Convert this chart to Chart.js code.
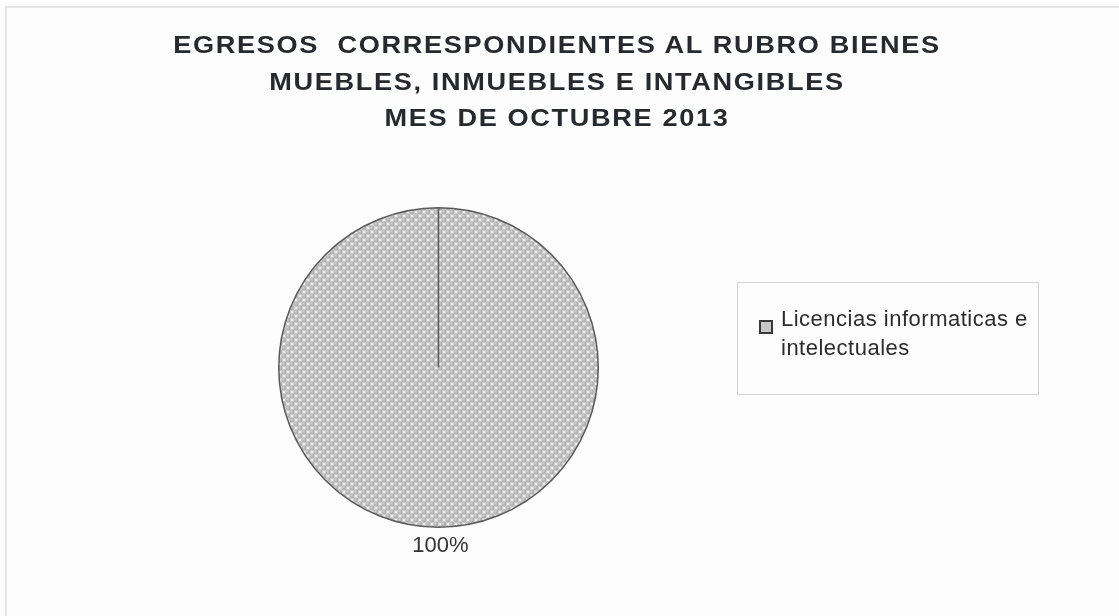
<!DOCTYPE html>
<html>
<head>
<meta charset="utf-8">
<script src="https://cdn.jsdelivr.net/npm/chart.js@4"></script>
<style>
  body { margin: 0; background: #fff; }
  #wrap { position: relative; width: 1119px; height: 616px; overflow: hidden; background: #fdfdfd; }
  #frame { position: absolute; left: 5px; top: 6px; width: 1200px; height: 700px;
    border-left: 2px solid #e6e6e6; border-top: 2px solid #e6e6e6; }
  #chart { position: absolute; left: 0; top: 0; }
  #title { position: absolute; left: 0; width: 1114px; top: 27px; text-align: center;
    font: bold 23px "Liberation Sans", Arial, sans-serif; letter-spacing: 1.4px;
    line-height: 36.5px; color: #262a2e; transform: scaleX(1.18); transform-origin: 557px 0; }
  #legend { position: absolute; left: 737px; top: 282px; width: 302px; height: 113px;
    border: 1px solid #d4d4d4; box-sizing: border-box; }
  .item { position: absolute; left: 21px; top: 22px; }
  .swatch { position: absolute; left: 0; top: 15px; width: 10px; height: 10px;
    border: 2px solid #3a3a3a; background: #c8c8c8; }
  .label { position: absolute; left: 22px; top: 0; white-space: nowrap;
    font: 22px "Liberation Sans", Arial, sans-serif; letter-spacing: 0.5px;
    line-height: 28.5px; color: #2c2c2c; }
</style>
</head>
<body>
<div id="wrap">
  <div id="frame"></div>
  <canvas id="chart" width="1119" height="616"></canvas>
  <div id="title">EGRESOS&nbsp; CORRESPONDIENTES AL RUBRO BIENES<br>MUEBLES, INMUEBLES E INTANGIBLES<br>MES DE OCTUBRE 2013</div>
  <div id="legend"></div>
</div>
<script>
// data
const categories = [['Licencias informaticas e', 'intelectuales']]
const shares = [100]

// dotted fill like the printed chart
const makeDotPattern = () => {
  const tile = document.createElement('canvas')
  tile.width = 8
  tile.height = 8
  const c = tile.getContext('2d')
  c.fillStyle = '#f0f0f0'
  c.fillRect(0, 0, 8, 8)
  const dots = [[0, 0], [8, 0], [0, 8], [8, 8], [4, 4]]
  dots.forEach(([x, y]) => {
    c.beginPath()
    c.arc(x, y, 2.7, 0, Math.PI * 2)
    c.fillStyle = '#b4b4b4'
    c.fill()
    c.beginPath()
    c.arc(x - 0.6, y - 0.6, 1, 0, Math.PI * 2)
    c.fillStyle = '#d0d0d0'
    c.fill()
  })
  return c.createPattern(tile, 'repeat')
}

// writes the legend as html next to the pie
const htmlLegend = {
  id: 'htmlLegend',
  afterUpdate (chart) {
    const box = document.getElementById('legend')
    box.innerHTML = ''
    chart.data.labels.forEach((label) => {
      const item = document.createElement('div')
      item.className = 'item'
      const sw = document.createElement('span')
      sw.className = 'swatch'
      const txt = document.createElement('span')
      txt.className = 'label'
      txt.innerHTML = [].concat(label).join('<br>')
      item.appendChild(sw)
      item.appendChild(txt)
      box.appendChild(item)
    })
  }
}

// percentage label outside each slice
const outsideLabels = {
  id: 'outsideLabels',
  afterDatasetsDraw (chart) {
    const ctx = chart.ctx
    const data = chart.data.datasets[0].data
    const total = data.reduce((a, b) => a + b, 0)
    chart.getDatasetMeta(0).data.forEach((arc, i) => {
      const { x, y, startAngle, endAngle, outerRadius } = arc.getProps(['x', 'y', 'startAngle', 'endAngle', 'outerRadius'], true)
      const mid = (startAngle + endAngle) / 2
      const r = outerRadius + 19
      ctx.save()
      ctx.font = '22px "Liberation Sans", Arial, sans-serif'
      ctx.fillStyle = '#333'
      ctx.textAlign = 'center'
      ctx.textBaseline = 'middle'
      ctx.fillText(Math.round(data[i] / total * 100) + '%', x + Math.cos(mid) * r + 2, y + Math.sin(mid) * r)
      ctx.restore()
    })
  }
}

new Chart(document.getElementById('chart'), {
  type: 'pie',
  data: {
    labels: categories,
    datasets: [{
      data: shares,
      backgroundColor: makeDotPattern(),
      borderColor: '#5a5a5a',
      borderWidth: 1.5
    }]
  },
  options: {
    responsive: false,
    animation: false,
    layout: { padding: { left: 278, right: 520, top: 207, bottom: 88 } },
    plugins: {
      legend: { display: false },
      title: { display: false },
      tooltip: { enabled: false }
    }
  },
  plugins: [htmlLegend, outsideLabels]
})
</script>
</body>
</html>
